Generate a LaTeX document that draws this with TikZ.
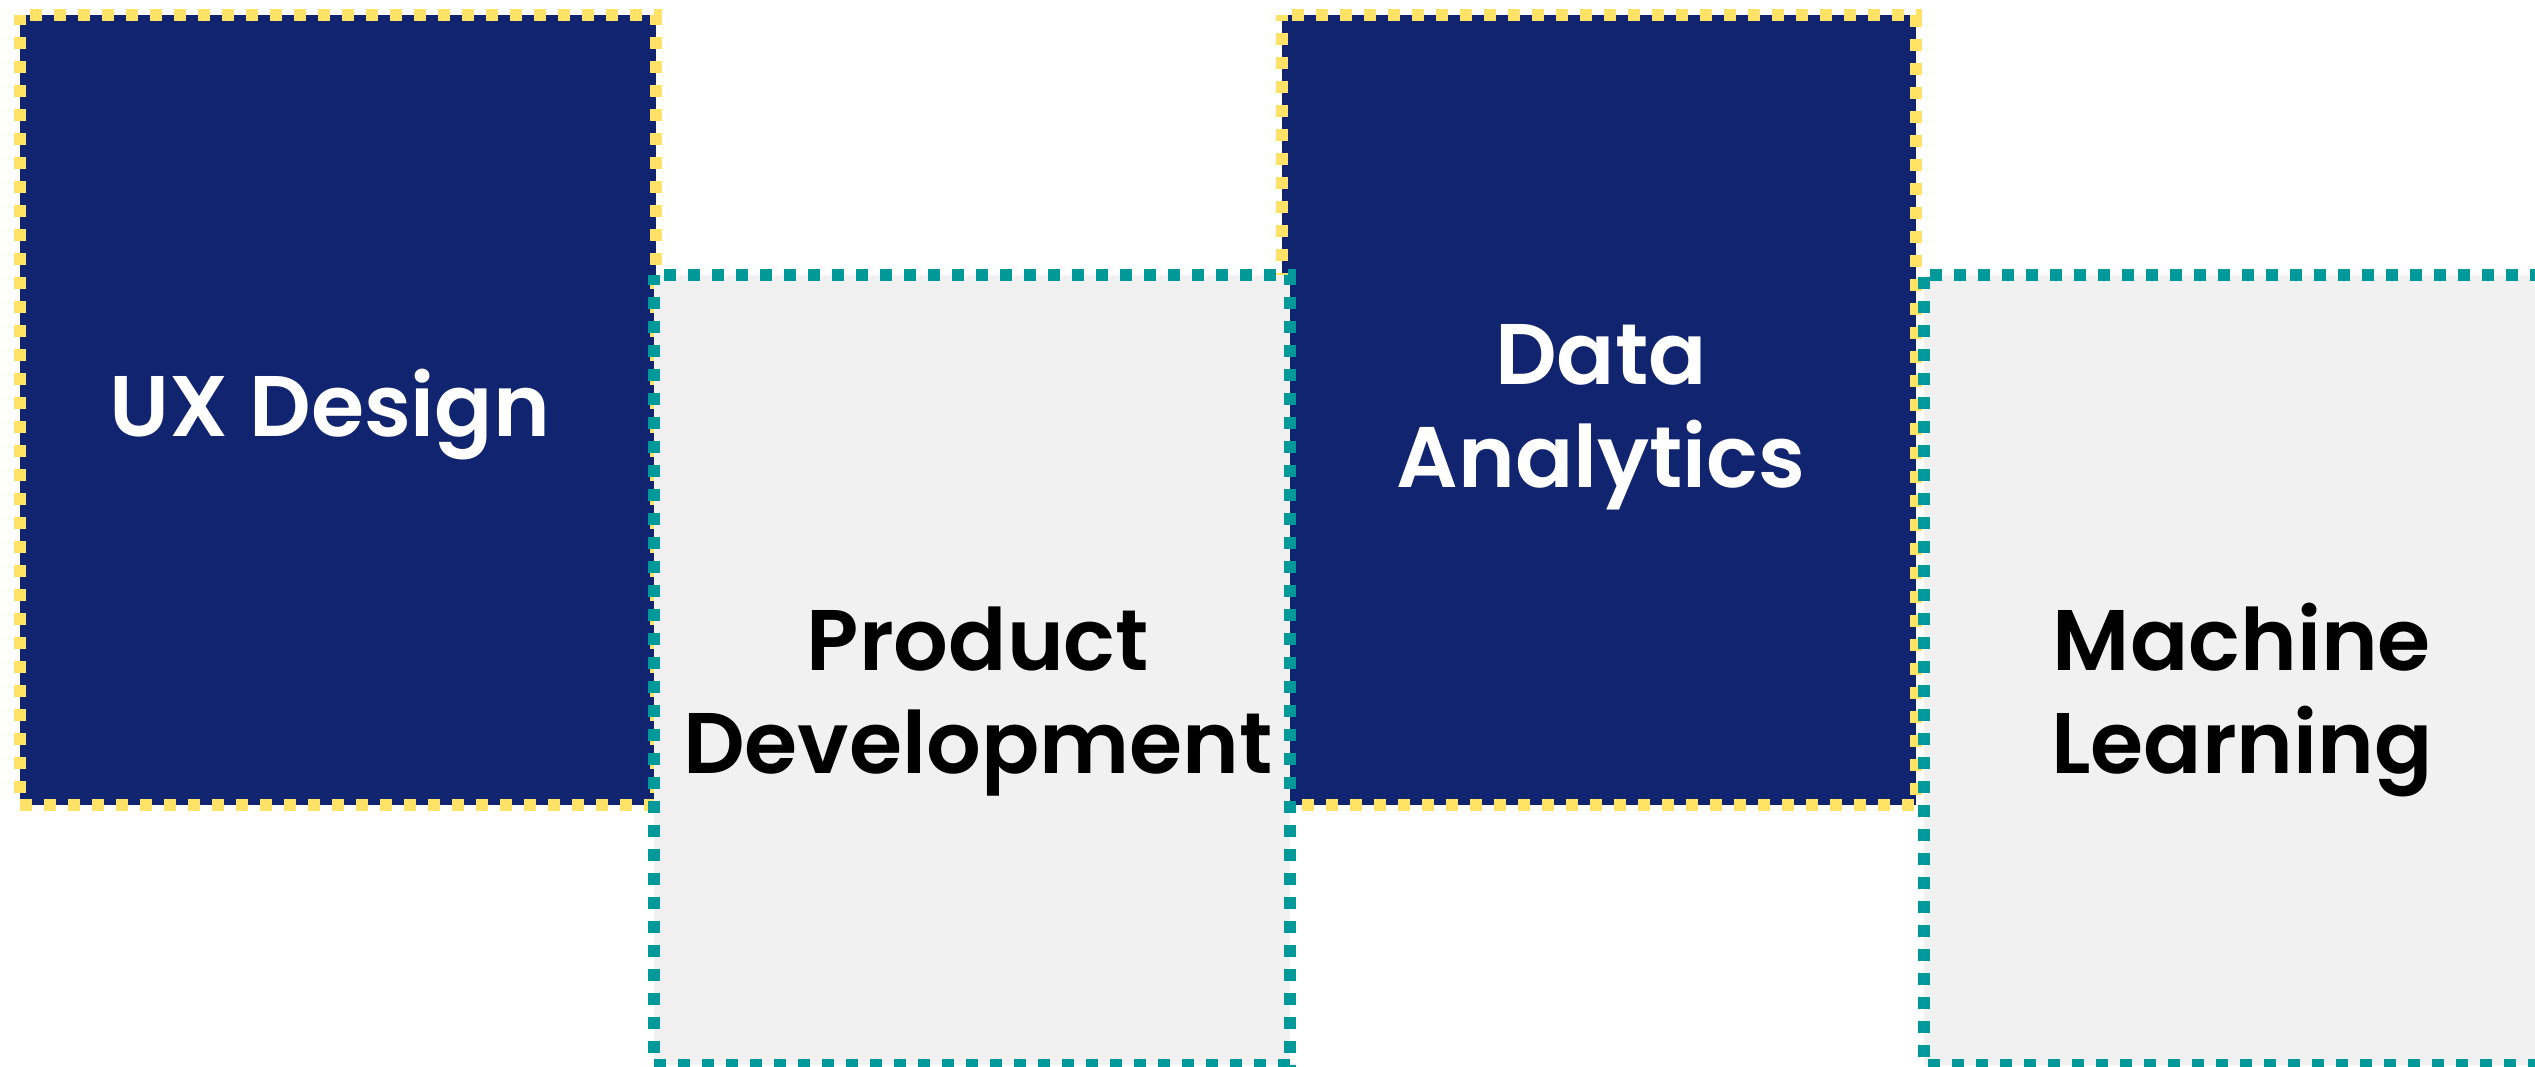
\documentclass[tikz,border=0pt]{standalone}
\usepackage{fontspec}
\setmainfont{Poppins}[BoldFont={Poppins SemiBold}]
\definecolor{navy}{RGB}{16,36,112}
\definecolor{sunyellow}{RGB}{255,226,102}
\definecolor{tealc}{RGB}{0,153,153}
\definecolor{paper}{RGB}{241,241,241}
\begin{document}
\begin{tikzpicture}[x=1pt,y=-1pt,
  panel/.style={rectangle, draw=none, inner sep=0pt, outer sep=0pt, minimum height=790pt},
  yborder/.style={draw=sunyellow, line width=12pt, dash pattern=on 12pt off 12pt, dash phase=14pt},
  tborder/.style={draw=tealc, line width=12pt, dash pattern=on 12pt off 12pt, dash phase=14pt},
  lbl/.style={font=\fontsize{86}{103}\selectfont\bfseries, align=center, anchor=base, inner sep=0pt}]
\useasboundingbox (0,0) rectangle (2535,1066);
\clip (0,0) rectangle (2535,1066);
\fill[white] (0,0) rectangle (2535,1066);
% box 1
\node[panel, fill=navy, minimum width=636pt] (b1) at (338,410) {};
\draw[yborder] (b1.north west) -- (b1.north east) -- (b1.south east) -- (b1.south west) -- cycle;
% box 3
\node[panel, fill=navy, minimum width=634pt] (b3) at (1599,410) {};
\draw[yborder] (b3.north west) -- (b3.north east) -- (b3.south east) -- (b3.south west) -- cycle;
% box 2
\node[panel, fill=paper, minimum width=636pt] (b2) at (972,670) {};
\draw[tborder] (b2.north west) -- (b2.north east) -- (b2.south east) -- (b2.south west) -- cycle;
% box 4
\node[panel, fill=paper, minimum width=636pt] (b4) at (2242,670) {};
\draw[tborder, dash phase=18pt] (b4.north west) -- (b4.north east) -- (b4.south east) -- (b4.south west) -- cycle;
% labels (anchor base = baseline of last line)
\node[lbl, text=white] (t1) at (330,436) {UX Design};
\node[lbl, text=black] (t2) at (978,773) {Product\\Development};
\node[lbl, text=white] (t3) at (1601,487) {Data\\Analytics};
\node[lbl, text=black] (t4) at (2242,773) {Machine\\Learning};
\end{tikzpicture}
\end{document}
